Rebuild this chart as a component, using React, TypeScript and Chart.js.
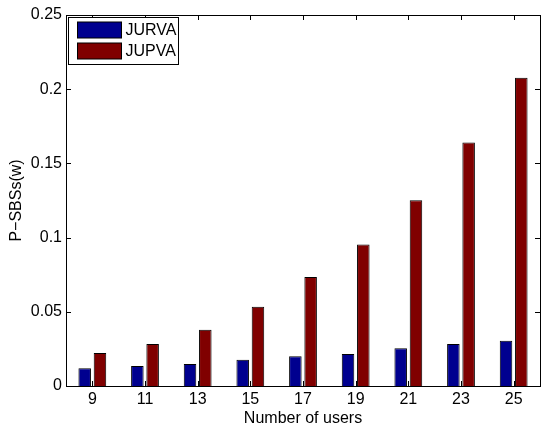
import React, { useEffect, useRef } from "react";
import { Chart, registerables } from "chart.js";

Chart.register(...registerables);

const categories = ["9", "11", "13", "15", "17", "19", "21", "23", "25"];
const jurva = [0.0119, 0.0135, 0.0148, 0.0177, 0.0200, 0.0216, 0.0254, 0.0283, 0.0305];
const jupva = [0.0222, 0.0283, 0.0379, 0.0534, 0.0734, 0.0953, 0.1252, 0.1640, 0.2077];
const seriesNames = ["JURVA", "JUPVA"];
const seriesColors = ["#00008F", "#800000"];
const yTicks = [0, 0.05, 0.1, 0.15, 0.2, 0.25];

const FONT = "'Liberation Sans', Arial, Helvetica, sans-serif";

const frame = {
  id: "matlabFrame",
  afterDatasetsDraw(chart: any) {
    const { ctx, chartArea: a, scales } = chart;
    ctx.save();
    ctx.strokeStyle = "#000";
    ctx.lineWidth = 1;
    ctx.strokeRect(Math.round(a.left) + 0.5, Math.round(a.top) + 0.5, Math.round(a.right - a.left), Math.round(a.bottom - a.top));
    const t = 5;
    ctx.beginPath();
    for (const v of yTicks) {
      const y = Math.round(scales.y.getPixelForValue(v)) + 0.5;
      ctx.moveTo(a.left, y); ctx.lineTo(a.left + t, y);
      ctx.moveTo(a.right, y); ctx.lineTo(a.right - t, y);
    }
    for (let i = 0; i < categories.length; i++) {
      const x = Math.round(scales.x.getPixelForValue(i)) + 0.5;
      ctx.moveTo(x, a.bottom); ctx.lineTo(x, a.bottom - t);
      ctx.moveTo(x, a.top); ctx.lineTo(x, a.top + t);
    }
    ctx.stroke();

    // legend
    const lx = Math.round(a.left) + 2.5, ly = Math.round(a.top) + 2.5;
    ctx.fillStyle = "#fff";
    ctx.fillRect(lx, ly, 110, 47);
    ctx.strokeRect(lx, ly, 110, 47);
    ctx.font = "16px " + FONT;
    ctx.textBaseline = "middle";
    for (let i = 0; i < seriesNames.length; i++) {
      const sy = ly + 4.5 + i * 21;
      ctx.fillStyle = seriesColors[i];
      ctx.fillRect(lx + 9, sy, 44, 16);
      ctx.strokeRect(lx + 9, sy, 44, 16);
      ctx.fillStyle = "#000";
      ctx.fillText(seriesNames[i], lx + 57, sy + 8.5);
    }
    ctx.restore();
  },
};

export default function App() {
  const ref = useRef<HTMLCanvasElement>(null);
  useEffect(() => {
    document.body.style.margin = "0";
    const chart = new Chart(ref.current!, {
      type: "bar",
      data: {
        labels: categories,
        datasets: [
          { label: seriesNames[0], data: jurva, backgroundColor: seriesColors[0], borderColor: "#000", borderWidth: 1 },
          { label: seriesNames[1], data: jupva, backgroundColor: seriesColors[1], borderColor: "#000", borderWidth: 1 },
        ],
      },
      options: {
        responsive: false,
        animation: false,
        devicePixelRatio: 1,
        categoryPercentage: 0.58,
        barPercentage: 0.82,
        layout: { padding: { top: 15, right: 4, left: 0, bottom: 0 } },
        plugins: { legend: { display: false }, tooltip: { enabled: false } },
        scales: {
          x: {
            grid: { display: false, drawTicks: false },
            border: { display: false },
            ticks: { color: "#000", font: { family: FONT, size: 16, lineHeight: 1 }, padding: 6, maxRotation: 0 },
            title: { display: true, text: "Number of users", color: "#000", font: { family: FONT, size: 16, lineHeight: 1 }, padding: { top: 4, bottom: -1 } },
            afterFit: (s: any) => { s.height = 40; },
          },
          y: {
            min: 0,
            max: 0.25,
            grid: { display: false, drawTicks: false },
            border: { display: false },
            ticks: {
              stepSize: 0.05,
              color: "#000",
              font: { family: FONT, size: 16 },
              padding: 4,
              callback: (v: any) => String(Number(Number(v).toFixed(2))),
            },
            title: { display: true, text: "P\u2212SBSs(w)", color: "#000", font: { family: FONT, size: 16, lineHeight: 1 }, padding: { top: 9, bottom: 4 } },
            afterFit: (s: any) => { s.width = 66; },
          },
        },
      },
      plugins: [frame],
    });
    return () => chart.destroy();
  }, []);
  return (
    <div style={{ position: "absolute", left: 0, top: 0, width: 544, height: 426, background: "#fff" }}>
      <canvas ref={ref} width={544} height={426} />
    </div>
  );
}
